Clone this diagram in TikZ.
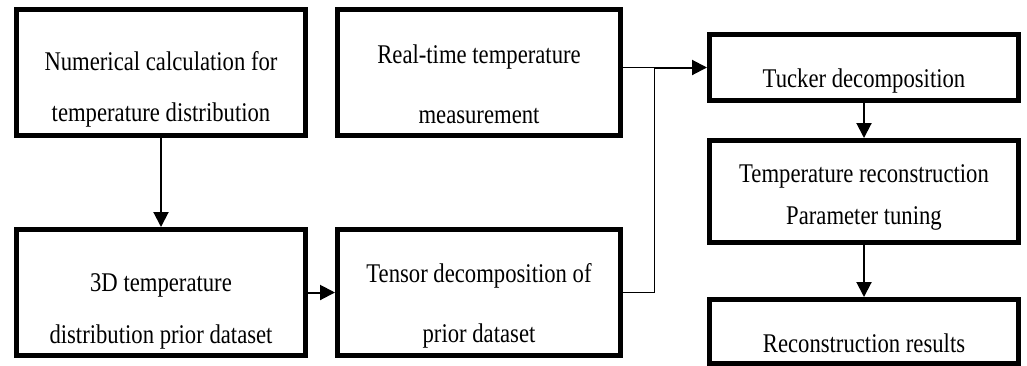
\documentclass[tikz,border=0pt]{standalone}
\usepackage{fontspec}
\setmainfont{Liberation Serif}[FakeStretch=0.84]
\usetikzlibrary{positioning,arrows.meta}

\begin{document}
\begin{tikzpicture}[x=1pt,y=-1pt,
	box/.style = {draw, line width=5pt, minimum width=289pt, minimum height=126pt, inner sep=0pt},
	wide/.style = {minimum width=309pt},
	txt/.style = {font=\fontsize{27}{#1}\selectfont, inner sep=0pt, anchor=base, align=center},
	txt/.default = 27,
	arr/.style = {line width=2pt, -{Triangle[length=15pt,width=15pt]}},
	link/.style = {line width=1pt}]
	\useasboundingbox (0,0) rectangle (1027,365);
	% boxes
	\node[box] (numcalc) at (161,72.5) {};
	\node[box, minimum width=283pt, right=27pt of numcalc] (realtime) {};
	\node[box, below=89pt of numcalc] (priordata) {};
	\node[box, minimum width=283pt, below=89pt of realtime] (tensordec) {};
	\node[box, wide, minimum height=66pt, right=84pt of realtime, yshift=5pt] (tucker) {};
	\node[box, wide, minimum height=102pt, below=35pt of tucker] (recon) {};
	\node[box, wide, minimum height=64pt, below=52pt of recon] (results) {};
	% texts (base = last line)
	\node[txt=51] (numcalc-text) at ([yshift=-114pt]numcalc.north) {Numerical calculation for\\temperature distribution};
	\node[txt=60] (realtime-text) at ([yshift=-116pt]realtime.north) {Real-time temperature\\measurement};
	\node[txt=52] (priordata-text) at ([yshift=-116pt]priordata.north) {3D temperature\\distribution prior dataset};
	\node[txt=60] (tensordec-text) at ([yshift=-115pt]tensordec.north) {Tensor decomposition of\\prior dataset};
	\node[txt] (tucker-text) at ([yshift=-55pt]tucker.north) {Tucker decomposition};
	\node[txt=42] (recon-text) at ([yshift=-86pt]recon.north) {Temperature reconstruction\\Parameter tuning};
	\node[txt] (results-text) at ([yshift=-55pt]results.north) {Reconstruction results};
	% connectors
	\path (realtime.east |- tucker.west) ++(31,0) coordinate (junction);
	\draw[link] (realtime.east |- junction) -- (junction);
	\draw[link] (tensordec.east) -| (junction);
	\draw[arr] (junction) -- (tucker.west);
	\draw[arr] (numcalc) -- (priordata);
	\draw[arr] (priordata) -- (tensordec);
	\draw[arr] (tucker) -- (recon);
	\draw[arr] (recon) -- (results);
\end{tikzpicture}
\end{document}
